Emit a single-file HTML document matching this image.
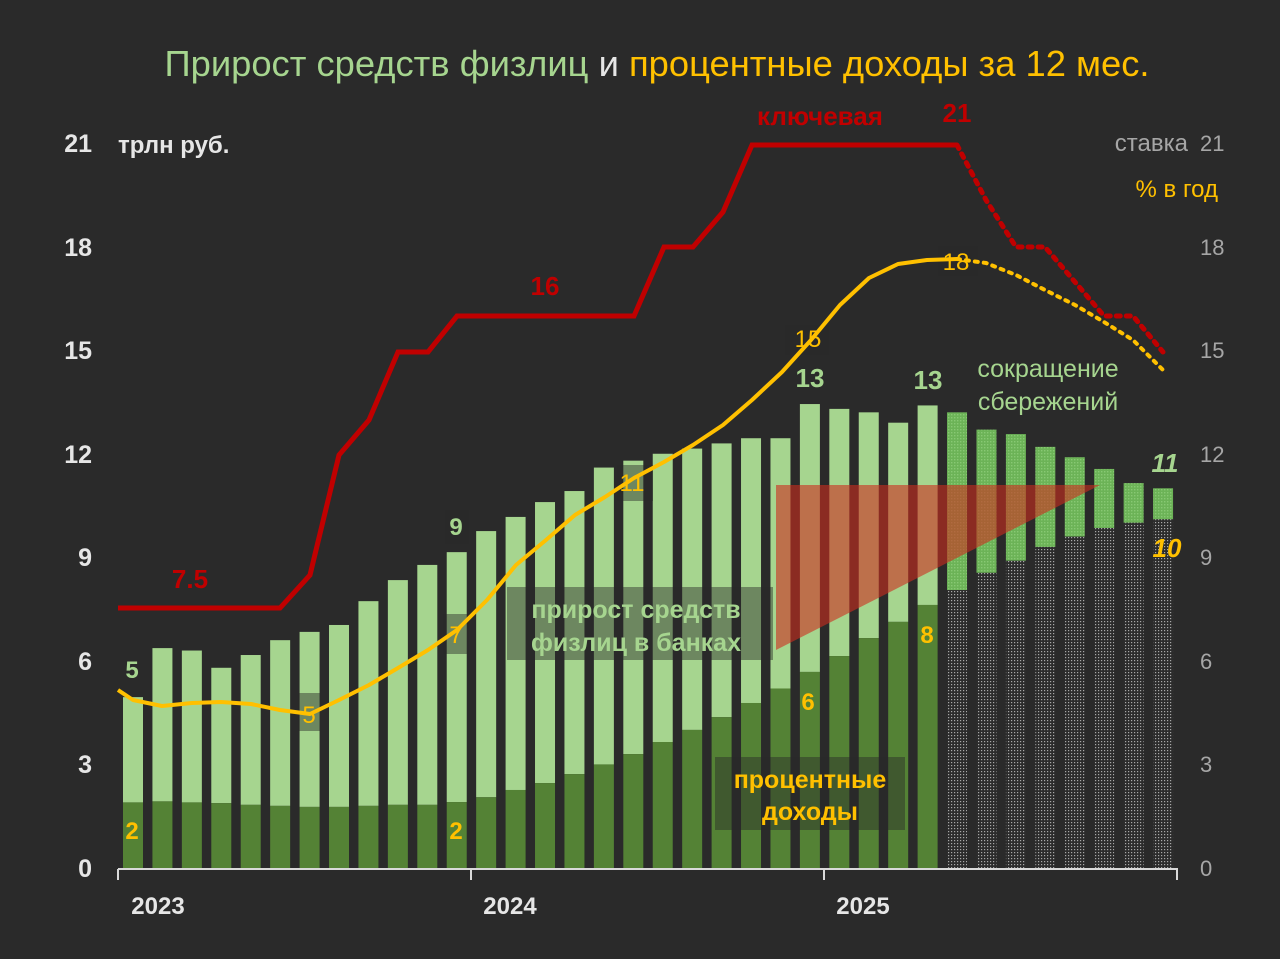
<!DOCTYPE html>
<html><head><meta charset="utf-8"><style>
body{margin:0;background:#2a2a2a;}
svg{display:block;font-family:"Liberation Sans","DejaVu Sans",sans-serif;}
</style></head><body>
<svg id="s" width="1280" height="959" viewBox="0 0 1280 959" xmlns="http://www.w3.org/2000/svg">
<defs>
<pattern id="dots" width="3" height="3" patternUnits="userSpaceOnUse"><rect width="3" height="3" fill="#2c2c2c"/><rect x="0" y="0" width="1.2" height="1.2" fill="#a8a8a8"/></pattern>
<pattern id="gh" width="3" height="3" patternUnits="userSpaceOnUse"><rect width="3" height="3" fill="#6cb357"/><rect x="0" y="0" width="1.4" height="1.4" fill="#88c874"/></pattern>
</defs>
<rect width="1280" height="959" fill="#2a2a2a"/>
<g id="bars"></g>
<g id="over"></g>
</svg>
<script>
const s=document.getElementById('bars'),o=document.getElementById('over');
const Y=v=>868-v*34.52;
const X=i=>133+i*29.43;
const tot=[4.95,6.37,6.3,5.8,6.17,6.6,6.84,7.04,7.73,8.34,8.78,9.15,9.76,10.17,10.6,10.92,11.6,11.8,12.0,12.15,12.3,12.45,12.45,13.44,13.3,13.2,12.9,13.4];
const inc=[1.9,1.93,1.9,1.88,1.83,1.8,1.77,1.77,1.8,1.83,1.83,1.91,2.05,2.26,2.46,2.72,3.0,3.3,3.65,4.0,4.37,4.78,5.2,5.68,6.14,6.66,7.13,7.62];
const ftot=[13.2,12.7,12.57,12.2,11.9,11.56,11.15,11.0];
const finc=[8.05,8.55,8.9,9.3,9.6,9.85,10.0,10.1];
let h='';
for(let i=0;i<28;i++){let x=X(i)-10;
h+=`<rect x="${x}" y="${Y(tot[i])}" width="20" height="${Y(inc[i])-Y(tot[i])}" fill="#a6d58f"/>`;
h+=`<rect x="${x}" y="${Y(inc[i])}" width="20" height="${868-Y(inc[i])}" fill="#548235"/>`;}
for(let j=0;j<8;j++){let x=X(28+j)-10;
h+=`<rect x="${x}" y="${Y(ftot[j])}" width="20" height="${Y(finc[j])-Y(ftot[j])}" fill="url(#gh)"/>`;
h+=`<rect x="${x}" y="${Y(finc[j])}" width="20" height="${868-Y(finc[j])}" fill="url(#dots)"/>`;}
s.innerHTML=h;
let g='';
g+=`<rect x="507" y="587" width="266" height="73" fill="rgba(40,40,40,0.45)"/>`;
g+=`<rect x="715" y="757" width="190" height="73" fill="rgba(40,40,40,0.45)"/>`;
[[298,693,22,38],[443,614,26,40],[617,465,36,36],[445,510,24,34],[785,325,44,30],[938,246,40,30]].forEach(b=>g+=`<rect x="${b[0]}" y="${b[1]}" width="${b[2]}" height="${b[3]}" fill="rgba(40,40,40,0.45)"/>`);
g+=`<polygon points="776,485 1100,485 776,650" fill="rgba(205,45,30,0.6)"/>`;
g+=`<line x1="118" y1="869" x2="1178" y2="869" stroke="#d9d9d9" stroke-width="2"/>`;
[118,471,824,1177].forEach(x=>g+=`<line x1="${x}" y1="869" x2="${x}" y2="880" stroke="#d9d9d9" stroke-width="2"/>`);
[[0,868],[3,764],[6,661],[9,557],[12,454],[15,350],[18,247],[21,143]].forEach(t=>{
g+=`<text x="92" y="${t[1]+9}" text-anchor="end" font-size="25" font-weight="bold" fill="#e6e6e6">${t[0]}</text>`;
g+=`<text x="1200" y="${t[1]+8}" font-size="22" fill="#a6a6a6">${t[0]}</text>`;});
g+=`<text x="158" y="914" text-anchor="middle" font-size="24" font-weight="bold" fill="#e6e6e6">2023</text>`;
g+=`<text x="510" y="914" text-anchor="middle" font-size="24" font-weight="bold" fill="#e6e6e6">2024</text>`;
g+=`<text x="863" y="914" text-anchor="middle" font-size="24" font-weight="bold" fill="#e6e6e6">2025</text>`;
g+=`<polyline points="118,608 280,608 310,575 339,455 369,420 398,352 428,352 457,316 634,316 664,247 693,247 723,212 752,145 957,145" fill="none" stroke="#c00000" stroke-width="5"/>`;
g+=`<polyline points="957,145 986,200 1016,247 1045,247 1075,282 1104,316 1133,316 1163,352" fill="none" stroke="#c00000" stroke-width="5" stroke-dasharray="4,6" stroke-linecap="round"/>`;
const yp=[[118,690],[133,700],[162,706],[192,703],[221,702],[251,704],[280,710],[310,714],[339,700],[369,685],[398,668],[428,650],[457,630],[487,600],[516,565],[546,540],[575,515],[605,497],[634,478],[664,462],[693,445],[723,425],[752,400],[782,372],[811,340],[840,305],[869,278],[898,264],[927,260],[957,259]];
g+=`<polyline points="${yp.map(p=>p.join(',')).join(' ')}" fill="none" stroke="#ffc000" stroke-width="4" stroke-linejoin="round"/>`;
g+=`<polyline points="957,259 986,263 1016,275 1045,290 1075,305 1104,322 1133,340 1163,370" fill="none" stroke="#ffc000" stroke-width="4" stroke-dasharray="3,6" stroke-linecap="round"/>`;
const T=(x,y,t,c,sz,w,a,st)=>g+=`<text x="${x}" y="${y}" font-size="${sz}" fill="${c}" font-weight="${w||'bold'}" text-anchor="${a||'middle'}" ${st||''}>${t}</text>`;
T(190,588,'7.5','#c00000',26);T(545,295,'16','#c00000',26);T(820,125,'ключевая','#c00000',26);T(957,122,'21','#c00000',26);
T(132,678,'5','#a6d58f',24);T(456,535,'9','#a6d58f',24);T(810,387,'13','#a6d58f',26);T(928,389,'13','#a6d58f',26);
T(1165,472,'11','#a6d58f',26,'bold','middle','font-style="italic"');T(1167,557,'10','#ffc000',26,'bold','middle','font-style="italic"');
T(132,839,'2','#ffc000',24);T(456,839,'2','#ffc000',24);T(808,710,'6','#ffc000',24);T(927,643,'8','#ffc000',24);
T(309,723,'5','#ffc000',24,'normal');T(456,643,'7','#ffc000',24,'normal');T(632,491,'11','#ffc000',24,'normal');T(808,347,'15','#ffc000',24,'normal');T(956,270,'18','#ffc000',24,'normal');
T(636,618,'прирост средств','#a6d58f',25);T(636,651,'физлиц в банках','#a6d58f',25);
T(810,788,'процентные','#ffc000',25);T(810,820,'доходы','#ffc000',25);
T(1048,377,'сокращение','#a6d58f',25,'normal');T(1048,410,'сбережений','#a6d58f',25,'normal');
T(118,153,'трлн руб.','#e6e6e6',24,'bold','start');
T(1188,151,'ставка','#a6a6a6',24,'normal','end');T(1218,197,'% в год','#ffc000',24,'normal','end');
g+=`<text x="657" y="76" text-anchor="middle" font-size="36" textLength="985" lengthAdjust="spacingAndGlyphs"><tspan fill="#a6d58f">Прирост средств физлиц</tspan><tspan fill="#e6e6e6"> и </tspan><tspan fill="#ffc000">процентные доходы за 12 мес.</tspan></text>`;
o.innerHTML=g;
</script>
</body></html>
